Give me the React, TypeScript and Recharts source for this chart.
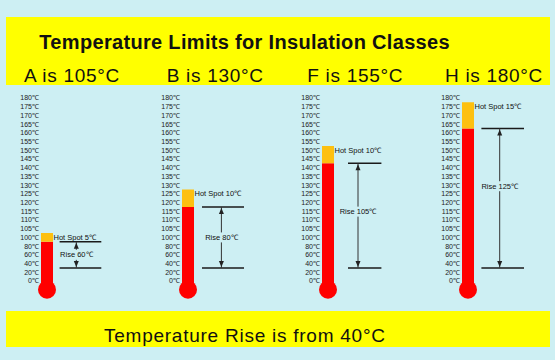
import React from "react";
import { ComposedChart, Bar, XAxis, YAxis, ReferenceLine, ReferenceDot } from "recharts";

// thermometer scale labels (not linear: 0..100 in 20s, then 5s)
const scaleTemps = [0, 20, 40, 60, 80, 100, 105, 110, 115, 120, 125, 130, 135, 140, 145, 150, 155, 160, 165, 170, 175, 180];
const classNames = ["A", "B", "F", "H"];
const classLimits = [105, 130, 155, 180];
const hotSpots = [5, 10, 10, 15];
const rises = [60, 80, 105, 125];
const ambient = 40;

const BG = "#CDEFF3";
const FONT = "'Liberation Sans', Arial, Helvetica, sans-serif";

// where each thermometer sits on the page + annotation placement (px from bar centre)
const panels = [
  { left: 14.7, lineFrom: 12.6, lineTo: 54.3, arrowX: 29.3, riseDy: 0 },
  { left: 156.3, lineFrom: 14, lineTo: 56, arrowX: 33.4, riseDy: 0 },
  { left: 296.3, lineFrom: 20, lineTo: 53.4, arrowX: 30, riseDy: -4 },
  { left: 436.3, lineFrom: 13.4, lineTo: 56, arrowX: 31.7, riseDy: -12 },
];
const headerLeft = [24, 166.7, 307.3, 445];

// marks sit half a division below the printed label
const level = (t: number) => scaleTemps.indexOf(t) - 0.5;

function Thermometer({ i }: { i: number }) {
  const p = panels[i];
  const top = level(classLimits[i]);
  const redTop = level(classLimits[i] - hotSpots[i]);
  const base = level(ambient);
  const data = [{ x: 0, core: [-1, redTop], hot: [redTop, top] }];

  const arrowUp = (props: any) => (
    <polygon
      points={`${props.cx},${props.cy + 1} ${props.cx - 2.5},${props.cy + 7} ${props.cx + 2.5},${props.cy + 7}`}
      fill="#222"
    />
  );
  const arrowDown = (props: any) => (
    <polygon
      points={`${props.cx},${props.cy - 1} ${props.cx - 2.5},${props.cy - 7} ${props.cx + 2.5},${props.cy - 7}`}
      fill="#222"
    />
  );
  const hotLabel = (props: any) => (
    <text x={props.cx} y={props.cy + 4.5} dominantBaseline="central" fontSize={7.5} fontFamily={FONT} fill="#111">
      {`Hot Spot ${hotSpots[i]}℃`}
    </text>
  );
  const riseLabel = (props: any) => (
    <g transform={`translate(0, ${p.riseDy})`}>
      <rect x={props.cx - 18} y={props.cy - 5} width={36} height={10} fill={BG} />
      <text x={props.cx} y={props.cy} textAnchor="middle" dominantBaseline="central" fontSize={7.5} fontFamily={FONT} fill="#111">
        {`Rise ${rises[i]}℃`}
      </text>
    </g>
  );

  return (
    <div style={{ position: "absolute", left: p.left, top: 79 }}>
      <ComposedChart width={96} height={232} data={data} margin={{ top: 10.3, right: 2, bottom: 12.6, left: 0 }}>
        <XAxis xAxisId="main" type="number" dataKey="x" domain={[-8, 62]} ticks={[-8, 62]} hide allowDataOverflow />
        <XAxis xAxisId="hot" type="number" dataKey="x" domain={[-8, 62]} ticks={[-8, 62]} hide allowDataOverflow />
        <YAxis
          type="number"
          domain={[-2, 22]}
          ticks={scaleTemps.map((_, k) => k)}
          tickFormatter={(k: number) => `${scaleTemps[k]}℃`}
          interval={0}
          allowDataOverflow
          axisLine={false}
          tickLine={false}
          tickSize={0}
          tickMargin={0}
          width={24}
          tick={{ fontSize: 7, fill: "#222", fontFamily: FONT }}
        />
        <Bar xAxisId="main" dataKey="core" fill="#FF0000" barSize={12} isAnimationActive={false} />
        <Bar xAxisId="hot" dataKey="hot" fill="#FDC010" barSize={12} isAnimationActive={false} />
        <ReferenceDot xAxisId="main" x={0} y={-1} r={9} fill="#FF0000" stroke="none" />
        <ReferenceDot xAxisId="main" x={6.5} y={top} shape={hotLabel} />
        <ReferenceLine
          xAxisId="main"
          segment={[{ x: p.lineFrom, y: redTop }, { x: p.lineTo, y: redTop }]}
          stroke="#1a1a1a"
          strokeWidth={1.5}
        />
        <ReferenceLine
          xAxisId="main"
          segment={[{ x: p.lineFrom, y: base }, { x: p.lineTo, y: base }]}
          stroke="#1a1a1a"
          strokeWidth={1.5}
        />
        <ReferenceLine
          xAxisId="main"
          segment={[{ x: p.arrowX, y: redTop }, { x: p.arrowX, y: base }]}
          stroke="#333"
          strokeWidth={1}
        />
        <ReferenceDot xAxisId="main" x={p.arrowX} y={redTop} shape={arrowUp} />
        <ReferenceDot xAxisId="main" x={p.arrowX} y={base} shape={arrowDown} />
        <ReferenceDot xAxisId="main" x={p.arrowX} y={(redTop + base) / 2} shape={riseLabel} />
      </ComposedChart>
    </div>
  );
}

export default function App() {
  return (
    <div style={{ position: "absolute", left: 0, top: 0, width: 555, height: 360, background: BG, overflow: "hidden", fontFamily: FONT, color: "#111" }}>
      <div style={{ position: "absolute", left: 6, top: 17.3, width: 544, height: 67.7, background: "#FFFF00" }} />
      <div style={{ position: "absolute", left: 6, top: 310.7, width: 544, height: 36.6, background: "#FFFF00" }} />
      <div style={{ position: "absolute", left: 39.3, top: 32.4, fontSize: 20, lineHeight: "20px", fontWeight: "bold", letterSpacing: 0.32, whiteSpace: "nowrap" }}>
        Temperature Limits for Insulation Classes
      </div>
      {classNames.map((c, i) => (
        <div key={c} style={{ position: "absolute", left: headerLeft[i], top: 65.6, fontSize: 19, lineHeight: "19px", letterSpacing: 0.7, whiteSpace: "nowrap" }}>
          {`${c} is ${classLimits[i]}°C`}
        </div>
      ))}
      <div style={{ position: "absolute", left: 104, top: 325.6, fontSize: 19, lineHeight: "19px", letterSpacing: 0.75, whiteSpace: "nowrap" }}>
        {`Temperature Rise is from ${ambient}°C`}
      </div>
      {classNames.map((c, i) => (
        <Thermometer key={c} i={i} />
      ))}
    </div>
  );
}
